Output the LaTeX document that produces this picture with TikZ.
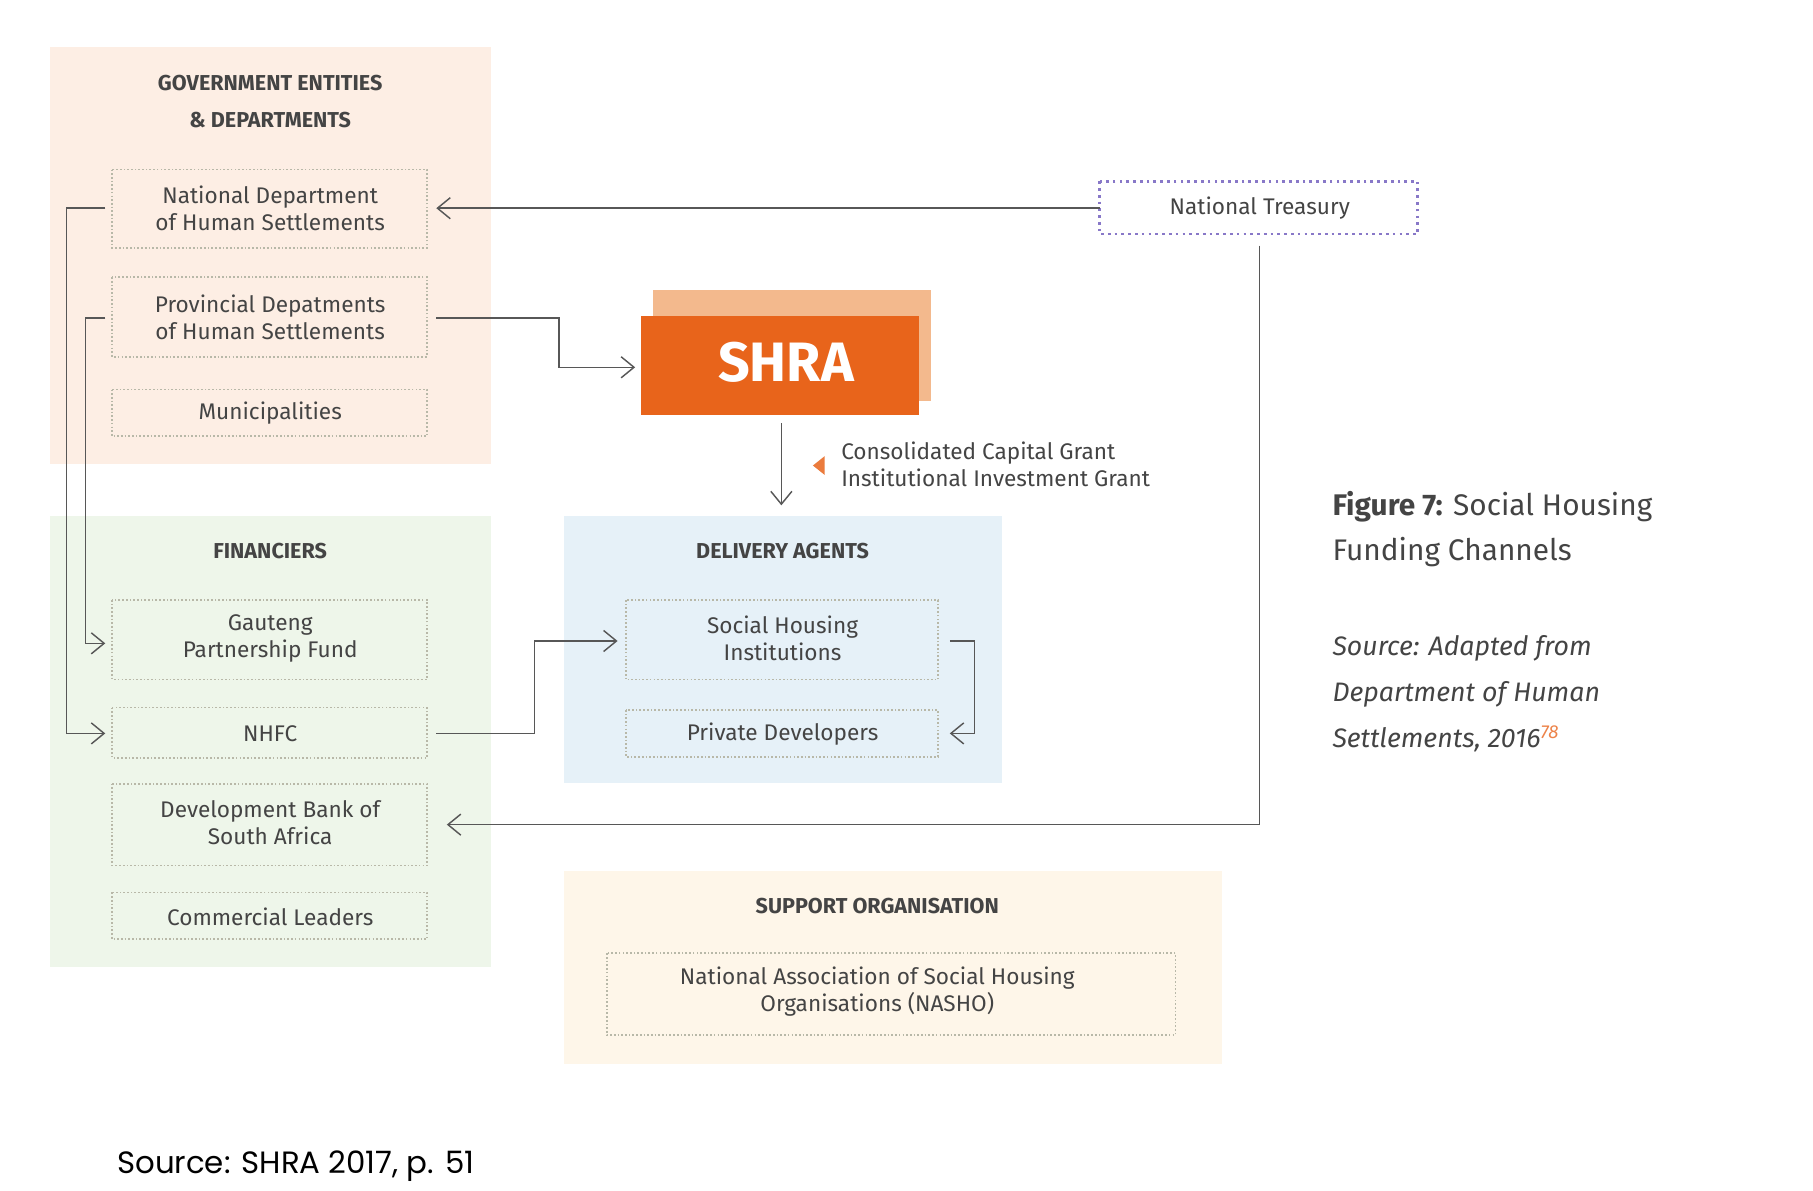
\documentclass[tikz,border=0pt]{standalone}
\usepackage{fontspec}
\setmainfont{Fira Sans}
\newfontfamily\popfont{Poppins}
\usetikzlibrary{arrows.meta}
\definecolor{govbg}{HTML}{FDEEE4}
\definecolor{finbg}{HTML}{EEF6EA}
\definecolor{delbg}{HTML}{E6F1F8}
\definecolor{supbg}{HTML}{FEF6E9}
\definecolor{shraback}{HTML}{F3B98D}
\definecolor{shrafront}{HTML}{E8641B}
\definecolor{txt}{HTML}{444444}
\definecolor{dotc}{HTML}{B8B8A8}
\definecolor{ntc}{HTML}{8878C8}
\tikzset{
  dbox/.style={draw=dotc, densely dotted, line width=0.8pt},
  lbl/.style={text=txt, font=\fontsize{11}{13}\selectfont, align=center},
  ttl/.style={text=txt, font=\fontsize{10.5}{18}\selectfont\bfseries, align=center},
  conn/.style={draw=txt!90, line width=0.7pt, -{Straight Barb[length=2.2mm,width=3.6mm]}}
}
\begin{document}
\begin{tikzpicture}[x=0.02cm,y=-0.02cm]
\useasboundingbox (0,0) rectangle (1550,1018);
\fill[white] (0,0) rectangle (1550,1018);
% panels
\fill[govbg] (43,40) rectangle (420,397);
\fill[finbg] (43,441) rectangle (420,827);
\fill[delbg] (482,441) rectangle (857,669);
\fill[supbg] (482,745) rectangle (1045,910);
% titles
\node[ttl] (tgov) at (231,87) {GOVERNMENT ENTITIES\\\& DEPARTMENTS};
\node[ttl] (tfin) at (231,471) {FINANCIERS};
\node[ttl] (tdel) at (669,471) {DELIVERY AGENTS};
\node[ttl] (tsup) at (750,775) {SUPPORT ORGANISATION};
% gov boxes
\draw[dbox] (96,145) rectangle (365,212); \node[lbl] (ndhs) at (231,178) {National Department\\of Human Settlements};
\draw[dbox] (96,237) rectangle (365,305); \node[lbl] (prov) at (231,271) {Provincial Depatments\\of Human Settlements};
\draw[dbox] (96,333) rectangle (365,373); \node[lbl] (mun) at (231,353) {Municipalities};
% fin boxes
\draw[dbox] (96,513) rectangle (365,581); \node[lbl] (gpf) at (231,546) {Gauteng\\Partnership Fund};
\draw[dbox] (96,605) rectangle (365,648); \node[lbl] (nhfc) at (231,627) {NHFC};
\draw[dbox] (96,670) rectangle (365,740); \node[lbl] (dbsa) at (231,703) {Development Bank of\\South Africa};
\draw[dbox] (96,763) rectangle (365,803); \node[lbl] (com) at (231,784) {Commercial Leaders};
% delivery
\draw[dbox] (535,513) rectangle (802,581); \node[lbl] (shi) at (669,546) {Social Housing\\Institutions};
\draw[dbox] (535,607) rectangle (802,647); \node[lbl] (pd) at (669,628) {Private Developers};
% support
\draw[dbox] (519,815) rectangle (1005,885); \node[lbl] (nasho) at (750,848) {National Association of Social Housing\\Organisations (NASHO)};
% treasury
\draw[draw=ntc, dotted, line width=1.3pt] (940,155) rectangle (1212,200);
\node[lbl] (nt) at (1077,178) {National Treasury};
% SHRA
\fill[shraback] (558,248) rectangle (796,343);
\fill[shrafront] (548,270) rectangle (786,355);
\node[text=white, font=\fontsize{27}{30}\selectfont\bfseries] (shra) at (672,310) {SHRA};
% connectors
\coordinate (ntl) at (940,178); \coordinate (ndr) at (373,178);
\draw[conn] (ntl) -- (ndr);
\coordinate (ntb) at (1077,210); \coordinate (dbr) at (382,705);
\draw[conn] (ntb) |- (dbr);
\coordinate (prr) at (373,272); \coordinate (shl) at (543,314);
\draw[conn] (prr) -- (478,272) |- (shl);
\coordinate (ndl) at (90,178); \coordinate (nhl) at (90,627);
\draw[conn] (ndl) -- (57,178) |- (nhl);
\coordinate (prl) at (90,272); \coordinate (gpl) at (90,550);
\draw[conn] (prl) -- (73,272) |- (gpl);
\coordinate (shb) at (668,362); \coordinate (dtop) at (668,432);
\draw[conn] (shb) -- (dtop);
\coordinate (nhr) at (373,627); \coordinate (shil) at (528,548);
\draw[conn] (nhr) -- (457,627) |- (shil);
\coordinate (shir) at (812,548); \coordinate (pdr) at (812,627);
\draw[conn] (shir) -- (833,548) |- (pdr);
% grant label
\fill[shrafront!85] (695,398) -- (705,390) -- (705,406) -- cycle;
\node[lbl, align=left, anchor=west] (grant) at (713,397) {Consolidated Capital Grant\\Institutional Investment Grant};
% caption
\node[anchor=west, text=txt, align=left, font=\fontsize{14.5}{22}\selectfont] (cap) at (1133,452) {\textbf{Figure 7:} Social Housing\\Funding Channels};
\node[anchor=west, text=txt, align=left, font=\fontsize{13}{22.5}\selectfont\itshape] (src) at (1133,593) {Source: Adapted from\\Department of Human\\Settlements, 2016\textsuperscript{\textcolor{shrafront!80}{78}}};
\node[anchor=west, font=\popfont\fontsize{15}{18}\selectfont] (bsrc) at (94,997) {Source: SHRA 2017, p. 51};
\end{tikzpicture}
\end{document}
